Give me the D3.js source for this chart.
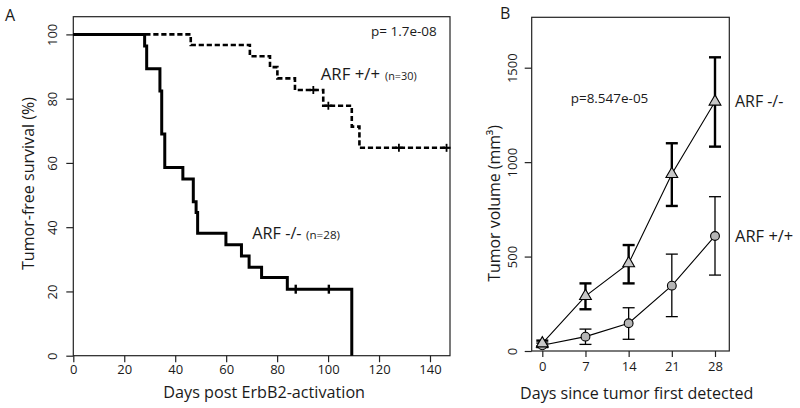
<!DOCTYPE html>
<html><head><meta charset="utf-8">
<script src="https://cdn.jsdelivr.net/npm/d3@7"></script>
<style>
html,body{margin:0;padding:0;background:#fff;}
svg text{font-family:"Open Sans",sans-serif;fill:#1a1a1a;}
</style></head>
<body><svg id="c" width="800" height="408"></svg>
<script>
// ---------- Panel A data (Kaplan-Meier) ----------
const aTicksX = [0, 20, 40, 60, 80, 100, 120, 140];
const aTicksY = [0, 20, 40, 60, 80, 100];
const nullTimes = [0, 28, 28.8, 34, 34.7, 35.9, 43, 47.1, 48.2, 48.8, 59.9, 66, 69, 73.9, 84, 109.3];
const nullSurv  = [100, 96.4, 89.3, 82.4, 69, 58.6, 55.0, 47.9, 44.6, 38.1, 34.5, 31.0, 27.5, 24.3, 20.7, 0];
const nullCensorTimes = [87.3, 100.3];
const nullCensorSurv  = [20.7, 20.7];
const wtTimes = [0, 46.1, 69.3, 77.2, 80.1, 87, 98.1, 109.3, 112.3, 146.5];
const wtSurv  = [100, 96.7, 93.2, 89.8, 86.3, 82.7, 77.8, 71.3, 64.7, 64.7];
const wtCensorTimes = [94.2, 100.1, 127.8, 146.5];
const wtCensorSurv  = [82.7, 77.8, 64.7, 64.7];

// ---------- Panel B data (tumor volume) ----------
const days = [0, 7, 14, 21, 28];
const bTicksY = [0, 500, 1000, 1500];
const nullMean = [40, 291, 464, 937, 1320];
const nullLo   = [25, 221, 358, 768, 1082];
const nullHi   = [55, 358, 561, 1100, 1555];
const wtMean = [30, 76, 147, 346, 609];
const wtLo   = [18, 35, 62, 182, 402];
const wtHi   = [42, 116, 229, 513, 817];

const svg = d3.select("#c");

// ================= PANEL A =================
const ax = d3.scaleLinear().domain([0, 140]).range([73.3, 430]);
const ay = d3.scaleLinear().domain([0, 100]).range([355.7, 34.4]);
const A = svg.append("g");

A.append("rect").attr("x", 73.3).attr("y", 16.7).attr("width", 450 - 73.3).attr("height", 355.7 - 16.7)
  .attr("fill", "none").attr("stroke", "#222").attr("stroke-width", 1.2);

const axA = A.append("g").attr("transform", "translate(0,355.7)")
  .call(d3.axisBottom(ax).tickValues(aTicksX).tickFormat(d3.format("d")).tickSize(6.5).tickSizeOuter(0).tickPadding(5));
axA.select(".domain").remove();
axA.selectAll("line").attr("stroke", "#222").attr("stroke-width", 1.2);
axA.selectAll("text").attr("font-size", 13).attr("font-family", "Open Sans").attr("fill", "#1a1a1a")
  .attr("dy", 0).attr("y", 18.8);

const ayA = A.append("g").attr("transform", "translate(73.3,0)")
  .call(d3.axisLeft(ay).tickValues(aTicksY).tickFormat(d3.format("d")).tickSize(7).tickSizeOuter(0));
ayA.select(".domain").remove();
ayA.selectAll("line").attr("stroke", "#222").attr("stroke-width", 1.2);
ayA.selectAll("text").attr("font-size", 13).attr("font-family", "Open Sans").attr("fill", "#1a1a1a")
  .attr("text-anchor", "middle").attr("x", null).attr("dy", 0)
  .attr("transform", "translate(-16,0) rotate(-90)");

const stepLine = d3.line().x(d => ax(d[0])).y(d => ay(d[1])).curve(d3.curveStepAfter);

A.append("path").datum(wtTimes.map((t, i) => [t, wtSurv[i]]))
  .attr("d", stepLine).attr("fill", "none").attr("stroke", "#000")
  .attr("stroke-width", 2.6).attr("stroke-dasharray", "5.2,2.8");
A.append("path").datum(nullTimes.map((t, i) => [t, nullSurv[i]]))
  .attr("d", stepLine).attr("fill", "none").attr("stroke", "#000").attr("stroke-width", 3);

// censor marks
A.selectAll(".cn").data(nullCensorTimes.map((t, i) => [t, nullCensorSurv[i]])).join("line")
  .attr("x1", d => ax(d[0])).attr("x2", d => ax(d[0]))
  .attr("y1", d => ay(d[1]) - 4.5).attr("y2", d => ay(d[1]) + 4.5)
  .attr("stroke", "#000").attr("stroke-width", 2.4);
A.selectAll(".cw").data(wtCensorTimes.map((t, i) => [t, wtCensorSurv[i]])).join("g")
  .each(function (d) {
    const g = d3.select(this), x = ax(d[0]), y = ay(d[1]);
    g.append("line").attr("x1", x).attr("x2", x).attr("y1", y - 4).attr("y2", y + 4)
      .attr("stroke", "#000").attr("stroke-width", 1.8);
    g.append("line").attr("x1", x - 4).attr("x2", x + 4).attr("y1", y).attr("y2", y)
      .attr("stroke", "#000").attr("stroke-width", 2.2);
  });

// texts A
A.append("text").attr("x", 5).attr("y", 21).attr("font-size", 16).text("A");
A.append("text").attr("x", 436.7).attr("y", 35.8).attr("text-anchor", "end").attr("font-size", 13.5)
  .attr("textLength", 65.7).attr("lengthAdjust", "spacingAndGlyphs").text("p= 1.7e-08");
A.append("text").attr("x", 320.7).attr("y", 79.5).attr("font-size", 16)
  .attr("textLength", 59.3).attr("lengthAdjust", "spacingAndGlyphs").text("ARF +/+");
A.append("text").attr("x", 385).attr("y", 79.5).attr("font-size", 11)
  .attr("textLength", 31.7).attr("lengthAdjust", "spacingAndGlyphs").text("(n=30)");
A.append("text").attr("x", 252.3).attr("y", 239.3).attr("font-size", 16)
  .attr("textLength", 49.3).attr("lengthAdjust", "spacingAndGlyphs").text("ARF -/-");
A.append("text").attr("x", 306).attr("y", 239.3).attr("font-size", 11)
  .attr("textLength", 34).attr("lengthAdjust", "spacingAndGlyphs").text("(n=28)");
A.append("text").attr("x", 264.2).attr("y", 398).attr("text-anchor", "middle").attr("font-size", 16.5)
  .attr("textLength", 201.7).attr("lengthAdjust", "spacingAndGlyphs").text("Days post ErbB2-activation");
A.append("text").attr("transform", "translate(33.5,183.5) rotate(-90)").attr("text-anchor", "middle")
  .attr("font-size", 16.5).attr("textLength", 173).attr("lengthAdjust", "spacingAndGlyphs")
  .text("Tumor-free survival (%)");

// ================= PANEL B =================
const bx = d3.scaleLinear().domain([0, 28]).range([542.3, 715]);
const by = d3.scaleLinear().domain([0, 1500]).range([351, 67.7]);
const B = svg.append("g");

B.append("rect").attr("x", 531.7).attr("y", 17.3).attr("width", 729.3 - 531.7).attr("height", 351 - 17.3)
  .attr("fill", "none").attr("stroke", "#222").attr("stroke-width", 1.2);

const bxA = B.append("g").attr("transform", "translate(0,351)")
  .call(d3.axisBottom(bx).tickValues(days).tickFormat(d3.format("d")).tickSize(6).tickSizeOuter(0));
bxA.select(".domain").remove();
bxA.selectAll("line").attr("stroke", "#222").attr("stroke-width", 1.2);
bxA.selectAll("text").attr("font-size", 13).attr("font-family", "Open Sans").attr("fill", "#1a1a1a")
  .attr("dy", 0).attr("y", 19.5);

const byA = B.append("g").attr("transform", "translate(531.7,0)")
  .call(d3.axisLeft(by).tickValues(bTicksY).tickFormat(d3.format("d")).tickSize(7).tickSizeOuter(0));
byA.select(".domain").remove();
byA.selectAll("line").attr("stroke", "#222").attr("stroke-width", 1.2);
byA.selectAll("text").attr("font-size", 13).attr("font-family", "Open Sans").attr("fill", "#1a1a1a")
  .attr("text-anchor", "middle").attr("x", null).attr("dy", 0)
  .attr("transform", "translate(-15,0) rotate(-90)");

const lin = d3.line().x(d => bx(d[0])).y(d => by(d[1]));
B.append("path").datum(days.map((d, i) => [d, nullMean[i]])).attr("d", lin)
  .attr("fill", "none").attr("stroke", "#000").attr("stroke-width", 1.1);
B.append("path").datum(days.map((d, i) => [d, wtMean[i]])).attr("d", lin)
  .attr("fill", "none").attr("stroke", "#000").attr("stroke-width", 1.1);

function errBars(lo, hi, sw) {
  days.forEach((d, i) => {
    const x = bx(d);
    B.append("line").attr("x1", x).attr("x2", x).attr("y1", by(lo[i])).attr("y2", by(hi[i]))
      .attr("stroke", "#000").attr("stroke-width", sw);
    [lo[i], hi[i]].forEach(v => B.append("line").attr("x1", x - 6).attr("x2", x + 6)
      .attr("y1", by(v)).attr("y2", by(v)).attr("stroke", "#000").attr("stroke-width", sw));
  });
}
errBars(wtLo, wtHi, 1.3);
errBars(nullLo, nullHi, 2.4);

B.selectAll(".circ").data(days.map((d, i) => [d, wtMean[i]])).join("circle")
  .attr("cx", d => bx(d[0])).attr("cy", d => by(d[1])).attr("r", 4.4)
  .attr("fill", "#b5b5b5").attr("stroke", "#000").attr("stroke-width", 1.1);
const tri = d3.symbol().type(d3.symbolTriangle).size(60);
B.selectAll(".tri").data(days.map((d, i) => [d, nullMean[i]])).join("path")
  .attr("d", tri).attr("transform", d => `translate(${bx(d[0])},${by(d[1])})`)
  .attr("fill", "#c8c8c8").attr("stroke", "#000").attr("stroke-width", 1.1);

B.append("text").attr("x", 500).attr("y", 18.5).attr("font-size", 16).text("B");
B.append("text").attr("x", 570.7).attr("y", 103).attr("font-size", 13.5)
  .attr("textLength", 77.6).attr("lengthAdjust", "spacingAndGlyphs").text("p=8.547e-05");
B.append("text").attr("x", 735).attr("y", 106.7).attr("font-size", 16)
  .attr("textLength", 48.3).attr("lengthAdjust", "spacingAndGlyphs").text("ARF -/-");
B.append("text").attr("x", 735).attr("y", 241.7).attr("font-size", 16)
  .attr("textLength", 58.3).attr("lengthAdjust", "spacingAndGlyphs").text("ARF +/+");
B.append("text").attr("x", 636.7).attr("y", 399).attr("text-anchor", "middle").attr("font-size", 16.5)
  .attr("textLength", 233.3).attr("lengthAdjust", "spacingAndGlyphs").text("Days since tumor first detected");
B.append("text").attr("transform", "translate(500,203.3) rotate(-90)").attr("text-anchor", "middle")
  .attr("font-size", 16.5).attr("textLength", 156.7).attr("lengthAdjust", "spacingAndGlyphs")
  .text("Tumor volume (mm³)");
</script></body></html>
